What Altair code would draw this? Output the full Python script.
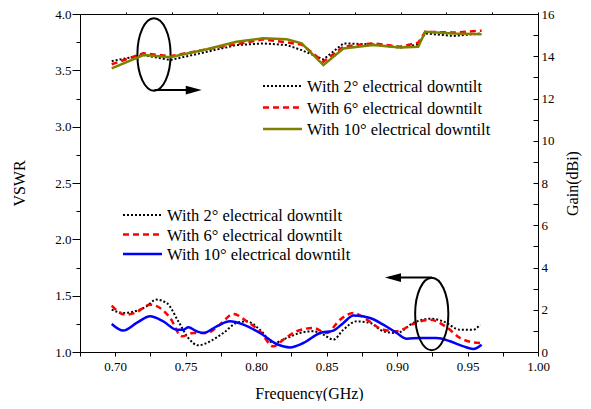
import altair as alt
import pandas as pd

series_labels = ["With 2° electrical downtilt", "With 6° electrical downtilt", "With 10° electrical downtilt"]

# Gain (right axis)
gain_freq_2 = [0.6975, 0.72, 0.739, 0.765, 0.786, 0.805, 0.8217, 0.8323, 0.8477, 0.8619, 0.883, 0.902, 0.915, 0.92, 0.94, 0.96]
gain_2 = [13.77, 14.06, 13.82, 14.21, 14.53, 14.61, 14.53, 14.29, 13.85, 14.61, 14.56, 14.40, 14.56, 15.08, 14.96, 15.08]
gain_freq_6 = [0.6975, 0.72, 0.739, 0.765, 0.805, 0.8323, 0.8477, 0.8619, 0.883, 0.902, 0.915, 0.92, 0.94, 0.96]
gain_6 = [13.62, 14.14, 14.00, 14.33, 14.80, 14.56, 13.74, 14.45, 14.61, 14.45, 14.64, 15.16, 15.12, 15.21]
gain_freq_10 = [0.6975, 0.72, 0.739, 0.765, 0.786, 0.805, 0.8217, 0.8323, 0.8477, 0.8619, 0.883, 0.902, 0.915, 0.92, 0.94, 0.96]
gain_10 = [13.43, 14.06, 13.95, 14.33, 14.69, 14.85, 14.80, 14.61, 13.58, 14.37, 14.53, 14.42, 14.45, 15.16, 15.08, 15.04]

# VSWR (left axis)
vswr_freq_2 = [0.6975, 0.7057, 0.714, 0.7223, 0.729, 0.7365, 0.7448, 0.7519, 0.759, 0.7673, 0.7767, 0.7862, 0.7933,
               0.8027, 0.8122, 0.8217, 0.8311, 0.8406, 0.8477, 0.8548, 0.8619, 0.8713, 0.8808, 0.8902, 0.8997,
               0.9115, 0.9234, 0.9328, 0.9447, 0.9541, 0.9589]
vswr_2 = [1.376, 1.346, 1.361, 1.406, 1.465, 1.435, 1.272, 1.124, 1.059, 1.095, 1.169, 1.258, 1.272,
          1.198, 1.080, 1.124, 1.169, 1.184, 1.154, 1.110, 1.198, 1.272, 1.258, 1.184, 1.169,
          1.258, 1.296, 1.272, 1.198, 1.198, 1.243]
vswr_freq_6 = [0.6975, 0.7069, 0.714, 0.7247, 0.7318, 0.739, 0.7472, 0.7554, 0.765, 0.7743, 0.7838, 0.7933,
               0.8027, 0.8122, 0.8193, 0.8288, 0.8406, 0.8501, 0.8595, 0.869, 0.8785, 0.8902, 0.8997,
               0.9115, 0.9234, 0.9352, 0.9447, 0.9541, 0.960]
vswr_6 = [1.412, 1.332, 1.346, 1.420, 1.391, 1.302, 1.139, 1.169, 1.169, 1.243, 1.338, 1.272,
          1.184, 1.050, 1.110, 1.184, 1.213, 1.169, 1.287, 1.346, 1.287, 1.198, 1.184,
          1.249, 1.287, 1.219, 1.124, 1.086, 1.080]
vswr_freq_10 = [0.6975, 0.7057, 0.7152, 0.7247, 0.7341, 0.7436, 0.7483, 0.7519, 0.7578, 0.7625, 0.772, 0.7814,
                0.7909, 0.8027, 0.8146, 0.824, 0.8335, 0.8453, 0.8548, 0.8619, 0.869, 0.8808, 0.8902,
                0.8997, 0.9068, 0.9163, 0.9281, 0.9376, 0.9471, 0.9541, 0.960]
vswr_10 = [1.249, 1.190, 1.258, 1.317, 1.272, 1.198, 1.198, 1.219, 1.184, 1.169, 1.228, 1.272,
           1.243, 1.169, 1.071, 1.041, 1.080, 1.169, 1.190, 1.258, 1.323, 1.302, 1.243,
           1.169, 1.118, 1.124, 1.124, 1.095, 1.050, 1.027, 1.065]

# Annotation ellipses / arrows (in data units of the VSWR axis)
ellipse_freq = [0.7275, 0.9246]
ellipse_vswr = [3.640, 1.338]
arrow_start_freq = [0.7278, 0.9246]
arrow_end_freq = [0.7560, 0.8945]
arrow_vswr = [3.325, 1.661]
head_freq = [0.7557, 0.8971]

FONT = "Liberation Serif"
X_DOMAIN = [0.675, 1.0]
styles = [
    dict(color="black", strokeDash=[2, 2], strokeWidth=2),
    dict(color="#ff0000", strokeDash=[6, 4], strokeWidth=2.5),
]
gain_colors = styles + [dict(color="#808000", strokeWidth=2.5)]
vswr_colors = styles + [dict(color="#0000ff", strokeWidth=2.5)]

xscale = alt.Scale(domain=X_DOMAIN, nice=False, zero=False)
vscale = alt.Scale(domain=[1.0, 4.0], nice=False, zero=False)
gscale = alt.Scale(domain=[0, 16], nice=False, zero=False)

x_values = [round(0.675 + 0.025 * i, 3) for i in range(14)]
x_axis = alt.Axis(values=x_values, labelExpr="round(datum.value*40) % 2 == 0 ? format(datum.value, '.2f') : ''",
                  tickSize=4, domain=False, grid=False, title="Frequency(GHz)", labelPadding=4, titlePadding=12,
                  labelFlush=False)
v_values = [1.0 + 0.25 * i for i in range(13)]
v_axis = alt.Axis(values=v_values, labelExpr="(datum.value*4) % 2 == 0 ? format(datum.value, '.1f') : ''",
                  tickSize={"condition": {"test": "(datum.value*4) % 2 == 0", "value": 8}, "value": 4},
                  domain=False, grid=False, title="VSWR", labelPadding=1, titlePadding=27, labelFlush=False)
g_axis = alt.Axis(values=list(range(17)), labelExpr="datum.value % 2 == 0 ? datum.label : ''",
                  orient="right", tickSize=5, offset=-5, domain=False, grid=False, title="Gain(dBi)",
                  titleAngle=270, labelPadding=3, titlePadding=26, labelFlush=False)
top_axis = alt.Axis(values=[round(0.675 + 0.0325 * k, 4) for k in range(1, 11)], orient="top", labels=False,
                    tickSize=2, domain=False, grid=False, title=None)


def series_df(freqs, vals):
    return pd.DataFrame({"freq": freqs, "value": vals})


def vx(field):
    return alt.X(field, scale=xscale, axis=x_axis)


def vy(field):
    return alt.Y(field, scale=vscale, axis=v_axis)


vswr_layers = []
for f, v, st in zip([vswr_freq_2, vswr_freq_6, vswr_freq_10], [vswr_2, vswr_6, vswr_10], vswr_colors):
    vswr_layers.append(
        alt.Chart(series_df(f, v)).mark_line(interpolate="monotone", **st).encode(
            x=vx("freq:Q"), y=vy("value:Q"))
    )

gain_layers = []
for f, v, st in zip([gain_freq_2, gain_freq_6, gain_freq_10], [gain_2, gain_6, gain_10], gain_colors):
    gain_layers.append(
        alt.Chart(series_df(f, v)).mark_line(**st).encode(
            x=alt.X("freq:Q", scale=xscale, axis=top_axis),
            y=alt.Y("value:Q", scale=gscale, axis=g_axis),
        )
    )

ann = pd.DataFrame({"ef": ellipse_freq, "ev": ellipse_vswr, "as": arrow_start_freq, "ae": arrow_end_freq,
                    "av": arrow_vswr, "hf": head_freq, "dir": ["right", "left"]})
ellipse = alt.Chart(ann).mark_point(
    shape="M0,-1A0.458,1 0 1 1 0,1A0.458,1 0 1 1 0,-1Z", size=5256, filled=False, stroke="black",
    strokeWidth=2, opacity=1).encode(x=vx("ef:Q"), y=vy("ev:Q"))
arrow_line = alt.Chart(ann).mark_rule(color="black", strokeWidth=2).encode(
    x=vx("as:Q"), x2="ae:Q", y=vy("av:Q"))
head_r = alt.Chart(ann).transform_filter("datum.dir == 'right'").mark_point(
    shape="M1,0L-1,-0.55L-1,0.55Z", size=256, filled=True, color="black", opacity=1).encode(
    x=vx("hf:Q"), y=vy("av:Q"))
head_l = alt.Chart(ann).transform_filter("datum.dir == 'left'").mark_point(
    shape="M-1,0L1,-0.55L1,0.55Z", size=256, filled=True, color="black", opacity=1).encode(
    x=vx("hf:Q"), y=vy("av:Q"))


def legend(x0, y0, dy, line_styles):
    parts = []
    for i, (lab, st) in enumerate(zip(series_labels, line_styles)):
        d = pd.DataFrame({"label": [lab]})
        yy = y0 + i * dy
        parts.append(alt.Chart(d).mark_rule(**st).encode(
            x=alt.value(x0), x2=alt.value(x0 + 39), y=alt.value(yy)))
        parts.append(alt.Chart(d).mark_text(font=FONT, fontSize=16.5, align="left", baseline="middle",
                                            color="black").encode(
            x=alt.value(x0 + 44), y=alt.value(yy + 1), text="label:N"))
    return parts


vswr_block = alt.layer(*vswr_layers, ellipse, arrow_line, head_r, head_l,
                       *legend(183, 72, 21.5, gain_colors), *legend(43, 201, 19.5, vswr_colors))
gain_block = alt.layer(*gain_layers)

chart = alt.layer(vswr_block, gain_block).resolve_scale(x="independent", y="independent").properties(
    width=458, height=338, autosize="none",
    padding={"left": 72, "top": 6, "right": 45, "bottom": 49},
    background="white",
).configure_view(stroke="black", strokeWidth=1).configure_axis(
    labelFont=FONT, titleFont=FONT, labelFontSize=13, titleFontSize=16, titleFontWeight="normal",
    labelColor="black", titleColor="black", tickColor="black", tickWidth=1,
)

chart.save("out.html", embed_options={"renderer": "svg", "actions": False})
